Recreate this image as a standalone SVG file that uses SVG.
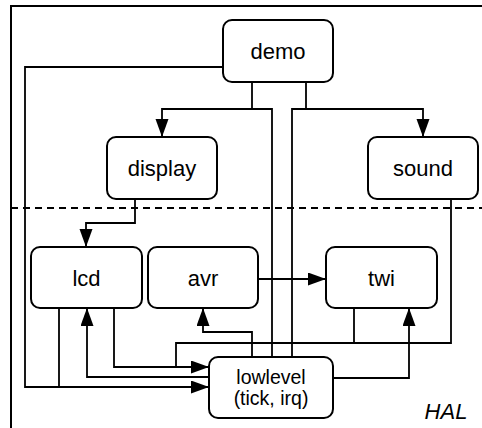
<svg xmlns="http://www.w3.org/2000/svg" width="482" height="428" viewBox="0 0 482 428">
<style>
.box{fill:#fff;stroke:#000;stroke-width:2}
.t{font-family:"Liberation Sans",Arial,Helvetica,sans-serif;font-size:22px;text-anchor:middle;fill:#000}
.s{font-size:19.5px}
.c{fill:none;stroke:#000;stroke-width:1.8}
.a{marker-end:url(#ah)}
</style>
<defs>
<marker id="ah" markerUnits="userSpaceOnUse" markerWidth="19" markerHeight="14" refX="18" refY="6.5" orient="auto">
<path d="M0,0 L18,6.5 L0,13 z" fill="#000"/>
</marker>
</defs>
<rect width="482" height="428" fill="#fff"/>
<path d="M11,430 L11,6 L484,6" fill="none" stroke="#000" stroke-width="2"/>
<line x1="11" y1="208" x2="482" y2="208" stroke="#000" stroke-width="1.8" stroke-dasharray="7,5"/>
<text class="t" x="446" y="419" font-style="italic">HAL</text>
<g id="connectors">
<path class="c a" d="M252,82 L252,109 L162,109 L162,137"/>
<path class="c" d="M252,109 L272,109 L272,357"/>
<path class="c a" d="M306,82 L306,109 L423,109 L423,137"/>
<path class="c" d="M306,109 L292,109 L292,357"/>
<path class="c a" d="M223,67 L25,67 L25,387 L209,387"/>
<path class="c" d="M59,308 L59,387"/>
<path class="c a" d="M135,199 L135,223 L86,223 L86,247"/>
<path class="c a" d="M114,308 L114,367 L209,367"/>
<path class="c a" d="M209,377 L87,377 L87,308"/>
<path class="c" d="M451,199 L451,343 L176,343 L176,367"/>
<path class="c" d="M354,308 L354,343"/>
<path class="c a" d="M252,357 L252,332 L203,332 L203,308"/>
<path class="c a" d="M333,378 L409,378 L409,308"/>
<path class="c a" d="M258,279 L326,279"/>
</g>
<g id="demo"><rect class="box" x="223" y="20" width="110" height="62" rx="9"/><text class="t" x="278" y="59">demo</text></g>
<g id="display"><rect class="box" x="107" y="137" width="110" height="62" rx="9"/><text class="t" x="162" y="176">display</text></g>
<g id="sound"><rect class="box" x="368" y="137" width="110" height="62" rx="9"/><text class="t" x="423" y="176">sound</text></g>
<g id="lcd"><rect class="box" x="31" y="247" width="111" height="61" rx="9"/><text class="t" x="86.5" y="286">lcd</text></g>
<g id="avr"><rect class="box" x="148" y="247" width="110" height="61" rx="9"/><text class="t" x="203" y="286">avr</text></g>
<g id="twi"><rect class="box" x="326" y="247" width="111" height="61" rx="9"/><text class="t" x="381.5" y="286">twi</text></g>
<g id="lowlevel"><rect class="box" x="209" y="357" width="124" height="61" rx="9"/><text class="t s" x="271" y="384">lowlevel</text><text class="t s" x="271" y="405">(tick, irq)</text></g>
</svg>
